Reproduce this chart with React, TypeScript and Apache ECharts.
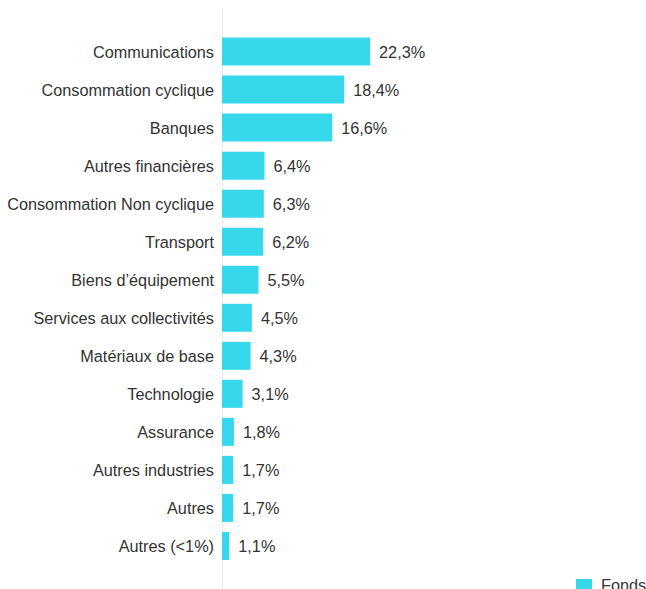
import React, { useEffect, useRef } from "react";
import * as echarts from "echarts";

const categories = [
  "Communications",
  "Consommation cyclique",
  "Banques",
  "Autres financières",
  "Consommation Non cyclique",
  "Transport",
  "Biens d’équipement",
  "Services aux collectivités",
  "Matériaux de base",
  "Technologie",
  "Assurance",
  "Autres industries",
  "Autres",
  "Autres (<1%)",
];
const fondsValues = [22.3, 18.4, 16.6, 6.4, 6.3, 6.2, 5.5, 4.5, 4.3, 3.1, 1.8, 1.7, 1.7, 1.1];
const seriesName = "Fonds";

export default function App() {
  const ref = useRef<HTMLDivElement>(null);
  useEffect(() => {
    const chart = echarts.init(ref.current!, null, { renderer: "svg" });
    const font = "Arial, 'Liberation Sans', sans-serif";
    const fs = 16.25;
    chart.setOption({
      animation: false,
      textStyle: { fontFamily: font },
      grid: { left: 222, right: 25.6, top: 32.5, bottom: 24, containLabel: false },
      xAxis: {
        type: "value",
        min: 0,
        max: 60,
        show: false,
      },
      yAxis: {
        type: "category",
        data: categories,
        inverse: true,
        axisLine: { show: false },
        axisTick: { show: false },
        splitLine: { show: false },
        axisLabel: { color: "#333", fontSize: fs, margin: 8, fontFamily: font },
      },
      legend: {
        data: [seriesName],
        left: 576,
        top: 577,
        padding: 0,
        itemWidth: 16,
        itemHeight: 12,
        itemGap: 10,
        icon: "rect",
        textStyle: { color: "#333", fontSize: fs, fontFamily: font, padding: [6, 0, 0, 4] },
      },
      graphic: [
        {
          type: "line",
          shape: { x1: 222.5, y1: 8, x2: 222.5, y2: 589 },
          style: { stroke: "#ececec", lineWidth: 1 },
          silent: true,
        },
      ],
      series: [
        {
          name: seriesName,
          type: "bar",
          data: fondsValues,
          barWidth: 28,
          itemStyle: { color: "#38d8ec" },
          label: {
            show: true,
            position: "right",
            distance: 9,
            color: "#333",
            fontSize: fs,
            fontFamily: font,
            formatter: (p: any) => String(p.value).replace(".", ",") + "%",
          },
        },
      ],
    });
    return () => chart.dispose();
  }, []);
  return <div ref={ref} style={{ width: 646, height: 589, position: "absolute", left: 0, top: 0 }} />;
}
